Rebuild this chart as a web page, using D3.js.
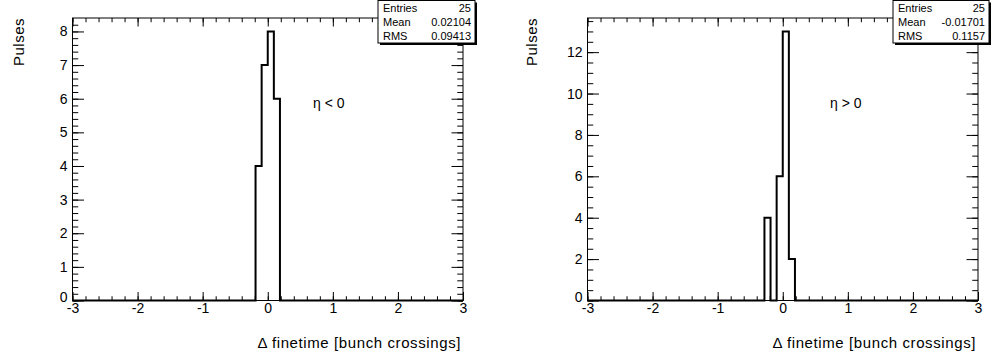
<!DOCTYPE html>
<html>
<head>
<meta charset="utf-8">
<script src="https://cdn.jsdelivr.net/npm/d3@7"></script>
<style>
  body { margin: 0; background: #fff; }
  text { font-family: "Liberation Sans", Arial, sans-serif; fill: #000; }
</style>
</head>
<body>
<div id="chart"></div>
<script>
// histogram definition: 64 bins between -3 and 3
const binWidth = 0.09375;
const xTicks = [-3, -2, -1, 0, 1, 2, 3];

// eta < 0
const leftBinLow = [-0.1875, -0.09375, 0, 0.09375];
const leftCounts = [4, 7, 8, 6];
const leftYTicks = [0, 1, 2, 3, 4, 5, 6, 7, 8];
const leftStats = [["Entries", "25"], ["Mean", "0.02104"], ["RMS", "0.09413"]];

// eta > 0
const rightBinLow = [-0.28125, -0.1875, -0.09375, 0, 0.09375];
const rightCounts = [4, 0, 6, 13, 2];
const rightYTicks = [0, 2, 4, 6, 8, 10, 12];
const rightStats = [["Entries", "25"], ["Mean", "-0.01701"], ["RMS", "0.1157"]];

const W = 994, H = 358;
const svg = d3.select('#chart').append('svg')
    .attr('width', W)
    .attr('height', H);

const panels = [
  { x0: 72.5, x1: 463, low: leftBinLow, counts: leftCounts, yTicks: leftYTicks, yMinor: 0.2,
    stats: leftStats, box: [378, 475], label: 'η < 0', labelX: 313, titleX: 24 },
  { x0: 587.5, x1: 978, low: rightBinLow, counts: rightCounts, yTicks: rightYTicks, yMinor: 0.5,
    stats: rightStats, box: [893, 989], label: 'η > 0', labelX: 830, titleX: 537 }
];

const yTop = 18, yBot = 300.5;
const fmt = d => String(d);   // plain hyphen minus, like ROOT

panels.forEach(p => {
  const ymax = d3.max(p.counts) * 1.05;
  const x = d3.scaleLinear().domain([-3, 3]).range([p.x0, p.x1]);
  const y = d3.scaleLinear().domain([0, ymax]).range([yBot, yTop]);
  const g = svg.append('g');

  const xMinor = d3.range(-3, 3.001, 0.2).map(v => +v.toFixed(2));
  const yMinor = d3.range(0, ymax, p.yMinor).map(v => +v.toFixed(2));
  const xLen = 8.5, yLen = 11.5;

  // minor ticks (all four sides)
  g.append('g').attr('transform', `translate(0,${yBot})`)
    .call(d3.axisBottom(x).tickValues(xMinor).tickSizeInner(-xLen / 2).tickSizeOuter(0).tickFormat(''));
  g.append('g').attr('transform', `translate(0,${yTop})`)
    .call(d3.axisTop(x).tickValues(xMinor).tickSizeInner(-xLen / 2).tickSizeOuter(0).tickFormat(''));
  g.append('g').attr('transform', `translate(${p.x0},0)`)
    .call(d3.axisLeft(y).tickValues(yMinor).tickSizeInner(-yLen / 2).tickSizeOuter(0).tickFormat(''));
  g.append('g').attr('transform', `translate(${p.x1},0)`)
    .call(d3.axisRight(y).tickValues(yMinor).tickSizeInner(-yLen / 2).tickSizeOuter(0).tickFormat(''));

  // major ticks
  g.append('g').attr('class', 'xaxis').attr('transform', `translate(0,${yBot})`)
    .call(d3.axisBottom(x).tickValues(xTicks).tickSizeInner(-xLen).tickSizeOuter(0)
      .tickPadding(3).tickFormat(fmt));
  g.append('g').attr('transform', `translate(0,${yTop})`)
    .call(d3.axisTop(x).tickValues(xTicks).tickSizeInner(-xLen).tickSizeOuter(0).tickFormat(''));
  g.append('g').attr('class', 'yaxis').attr('transform', `translate(${p.x0},0)`)
    .call(d3.axisLeft(y).tickValues(p.yTicks).tickSizeInner(-yLen).tickSizeOuter(0)
      .tickPadding(5).tickFormat(fmt));
  g.append('g').attr('transform', `translate(${p.x1},0)`)
    .call(d3.axisRight(y).tickValues(p.yTicks).tickSizeInner(-yLen).tickSizeOuter(0).tickFormat(''));

  g.selectAll('.domain').remove();
  g.selectAll('.tick line').attr('stroke', '#000').attr('stroke-width', 1);
  g.selectAll('.tick text').style('font-family', '"Liberation Sans", Arial, sans-serif')
    .style('font-size', '14px').attr('fill', '#000');
  // zero label of y axis sits a little high, as in ROOT
  g.selectAll('.yaxis .tick text').filter(d => d === 0).attr('dy', '0.1em');

  // frame
  g.append('rect')
    .attr('x', p.x0).attr('y', yTop)
    .attr('width', p.x1 - p.x0).attr('height', yBot - yTop)
    .attr('fill', 'none').attr('stroke', '#000').attr('stroke-width', 1);

  // histogram outline (contiguous bins, baseline across full range)
  const pts = [[x(-3), y(0)], [x(p.low[0]), y(0)]];
  p.low.forEach((lo, i) => {
    pts.push([x(lo), y(p.counts[i])]);
    pts.push([x(lo + binWidth), y(p.counts[i])]);
  });
  pts.push([x(p.low[p.low.length - 1] + binWidth), y(0)]);
  pts.push([x(3), y(0)]);
  g.append('path')
    .attr('d', d3.line()(pts))
    .attr('fill', 'none').attr('stroke', '#000').attr('stroke-width', 2)
    .attr('stroke-linejoin', 'miter');

  // axis titles
  g.append('text')
    .attr('transform', `translate(${p.titleX},${yTop}) rotate(-90)`)
    .attr('text-anchor', 'end').style('font-size', '15px').style('letter-spacing', '0.5px')
    .text('Pulses');
  g.append('text')
    .attr('x', p.x1 - 2).attr('y', 348)
    .attr('text-anchor', 'end').style('font-size', '15px').style('letter-spacing', '0.6px')
    .text('Δ finetime [bunch crossings]');

  // eta label
  g.append('text')
    .attr('x', p.labelX).attr('y', 108)
    .style('font-size', '14px').text(p.label);

  // stats box
  const [bx0, bx1] = p.box;
  const by0 = 0.5, by1 = 43;
  g.append('rect').attr('x', bx0 + 2).attr('y', by0 + 2)
    .attr('width', bx1 - bx0).attr('height', by1 - by0).attr('fill', '#000');
  g.append('rect').attr('x', bx0).attr('y', by0)
    .attr('width', bx1 - bx0).attr('height', by1 - by0)
    .attr('fill', '#fff').attr('stroke', '#000').attr('stroke-width', 1);
  p.stats.forEach((s, i) => {
    const ty = by0 + (i + 0.5) * (by1 - by0) / 3 + 4;
    g.append('text').attr('x', bx0 + 5).attr('y', ty).style('font-size', '11px').text(s[0]);
    g.append('text').attr('x', bx1 - 4).attr('y', ty).attr('text-anchor', 'end')
      .style('font-size', '11px').text(s[1]);
  });
});
</script>
</body>
</html>
